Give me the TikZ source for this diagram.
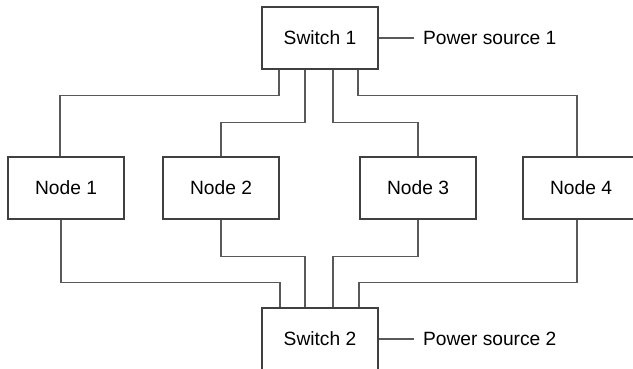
\documentclass[tikz,border=0pt]{standalone}
\usepackage{fontspec}
\setmainfont{Liberation Sans}
\usetikzlibrary{positioning}

\begin{document}
\begin{tikzpicture}[x=0.5pt, y=-0.5pt, node distance={17.5pt}, font=\fontsize{9.6}{11}\selectfont,
    box/.style={rectangle, draw=black!75, line width=0.65pt, minimum width=58pt, minimum height=31pt, inner sep=0pt},
    power/.style={inner sep=4.5pt},
    wire/.style={draw=black!65, line width=0.65pt}]
      \useasboundingbox (0,0) rectangle (633,369);
      \node[box] (sw1) at (320,38) {Switch 1};
      \node[box] (n1) at (66,188) {Node 1};
      \node[box] (n2) at (221,188) {Node 2};
      \node[box] (n3) at (418,188) {Node 3};
      \node[box] (n4) at (581,188) {Node 4};
      \node[box] (sw2) at (320,339) {Switch 2};
      \node[power] (ps1) [right=of sw1] {Power source 1};
      \node[power] (ps2) [right=of sw2] {Power source 2};

      \draw[wire] (sw1.east) -- (ps1.west);
      \draw[wire] (sw2.east) -- (ps2.west);

      % switch 1 down to the nodes
      \draw[wire] ([xshift=-20.5pt]sw1.south) -- ++(0,26) -| ([xshift=-3pt]n1.north);
      \draw[wire] ([xshift=-7.5pt]sw1.south) -- ++(0,53) -| (n2.north);
      \draw[wire] ([xshift=6.5pt]sw1.south) -- ++(0,53) -| (n3.north);
      \draw[wire] ([xshift=19pt]sw1.south) -- ++(0,26) -| ([xshift=-2pt]n4.north);

      % nodes down to switch 2
      \draw[wire] ([xshift=-2.5pt]n1.south) -- ++(0,63) -| ([xshift=-20pt]sw2.north);
      \draw[wire] (n2.south) -- ++(0,37) -| ([xshift=-7.5pt]sw2.north);
      \draw[wire] (n3.south) -- ++(0,37) -| ([xshift=6.5pt]sw2.north);
      \draw[wire] ([xshift=-2pt]n4.south) -- ++(0,63) -| ([xshift=19.5pt]sw2.north);
\end{tikzpicture}
\end{document}
